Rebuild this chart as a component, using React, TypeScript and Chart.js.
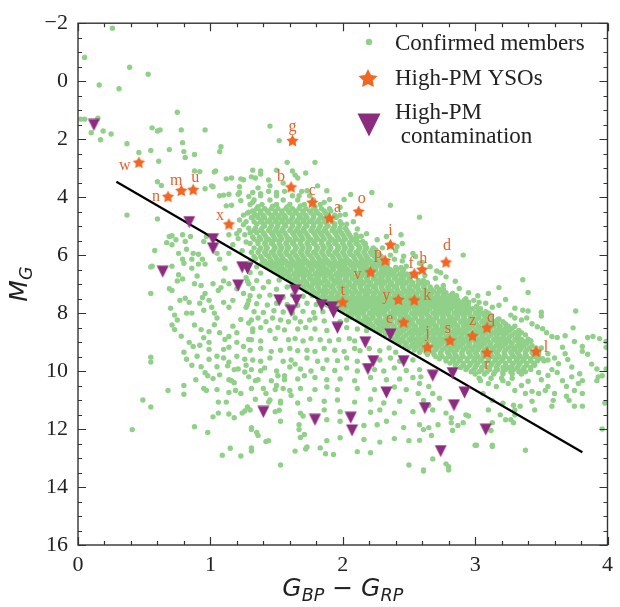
import React, { useEffect, useRef } from "react";
import { Chart, registerables } from "chart.js";

Chart.register(...registerables);

// ---------- axis ticks ----------
const xMajorTicks = [0, 1, 2, 3, 4];
const xMinorTicks = [0.2, 0.4, 0.6, 0.8, 1.2, 1.4, 1.6, 1.8, 2.2, 2.4, 2.6, 2.8, 3.2, 3.4, 3.6, 3.8];
const yMajorTicks = [-2, 0, 2, 4, 6, 8, 10, 12, 14, 16];
const yMinorTicks = [-1.5, -1, -0.5, 0.5, 1, 1.5, 2.5, 3, 3.5, 4.5, 5, 5.5, 6.5, 7, 7.5, 8.5, 9, 9.5, 10.5, 11, 11.5, 12.5, 13, 13.5, 14.5, 15, 15.5];

// ---------- legend ----------
const legendMembers = "Confirmed members";
const legendYSO = "High-PM YSOs";
const legendContam = ["High-PM", " contamination"];

// ---------- fitted boundary line ----------
const fitLineX = [0.29, 3.81];
const fitLineY = [3.47, 12.8];

// ---------- High-PM YSOs ----------
const ysoNames = ["a","b","c","d","e","f","g","h","i","j","k","l","m","n","o","p","q","r","s","t","u","v","w","x","y","z"];
const ysoX = [1.90,1.61,1.77,2.78,2.46,2.54,1.62,2.60,2.36,2.64,2.54,3.46,0.78,0.68,2.12,2.32,3.09,3.09,2.81,2.00,0.87,2.21,0.46,1.14,2.42,2.98];
const ysoY = [4.72,3.65,4.18,6.24,8.31,6.64,2.05,6.49,5.64,9.17,7.55,9.32,3.77,3.98,4.49,6.18,8.50,9.36,8.94,7.62,3.74,6.58,2.80,4.93,7.53,8.78];
// label placement relative to its star (pixels)
const labelOffsets: Record<string, number[]> = {
  a: [8, -10], b: [-10, -10], c: [0, -12], d: [1, -16], e: [-14, -3], f: [-3, -10], g: [0, -14],
  h: [1, -11], i: [0, -14], j: [0, -14], k: [13, -4], l: [10, -4], m: [-5, -10], n: [-12, 0],
  o: [3, -13], p: [-7, -7], q: [4, -10], r: [0, 12], s: [-2, -12], t: [0, -11], u: [2, -12],
  v: [-13, 3], w: [-14, 3], x: [-9, -8], y: [-12, -4], z: [0, -15],
};

// ---------- High-PM contamination ----------
const contamX = [0.12,0.84,1.02,1.02,0.64,1.24,1.28,1.21,1.52,1.64,1.65,1.61,1.84,1.92,1.93,1.96,2.17,2.23,2.19,2.36,2.46,2.33,1.40,1.79,2.06,2.07,2.62,2.68,2.83,2.92,2.84,3.08,2.74];
const contamY = [1.51,4.86,5.45,5.77,6.57,6.42,6.46,7.05,7.56,7.22,7.56,7.92,7.73,7.80,7.97,8.51,9.01,9.66,9.93,8.74,9.66,10.74,11.41,11.68,11.61,12.05,11.28,10.16,10.07,10.74,11.18,12.02,12.76];

// ---------- Confirmed members (x, y pairs) ----------
const membersUpper = [
  0.26,-1.83, 0.05,-0.82, 0.39,-0.48, 0.53,-0.24, 0.16,0.13, 0.31,0.26, 0.75,1.07, 0.02,1.31, 0.05,1.31, 0.15,1.28,
  0.10,1.78, 0.19,1.72, 0.25,1.82, 0.17,2.02, 0.37,2.16, 0.56,1.61, 0.62,1.68, 0.60,1.72, 0.78,1.68, 0.96,1.68,
  1.45,1.55, 1.52,2.05, 0.46,2.46, 0.55,2.39, 0.61,2.76, 0.69,2.36, 0.79,2.12, 0.80,2.43, 0.81,2.63, 0.88,2.53,
  1.08,2.26, 1.07,2.43, 0.88,3.10, 0.92,3.12, 1.03,3.13, 0.60,3.47, 0.63,3.60, 0.96,3.71, 1.02,3.64, 1.12,3.37,
  1.23,3.37, 1.31,3.30, 1.22,3.64, 1.22,3.84, 1.07,3.95, 1.10,3.93, 1.14,3.90, 1.21,3.90, 1.29,3.98, 1.32,4.18,
  1.12,4.30, 1.16,4.28, 1.23,4.12, 1.32,3.07, 1.38,3.20, 1.58,2.80, 1.62,3.10, 1.25,3.40, 1.79,2.80, 1.64,3.24,
  1.16,3.34, 1.04,3.10, 1.01,3.61, 1.45,3.61, 1.36,3.68, 1.32,3.84, 1.38,3.88, 1.50,3.84, 1.55,3.51, 1.73,3.78,
  1.67,3.95, 1.38,3.10, 1.50,3.07, 1.34,3.34, 1.44,3.41, 1.66,3.34, 1.72,3.17, 1.81,3.61, 1.88,3.78, 2.01,4.08,
  2.06,3.91, 2.22,3.84, 2.36,4.28, 2.58,4.69, 1.90,4.08, 1.86,4.18, 1.98,4.35, 2.03,4.93, 2.11,5.10, 2.18,5.26,
  2.26,5.47, 2.33,5.36, 2.17,5.60, 2.41,5.70, 2.46,6.04, 2.39,6.14, 2.53,5.94, 2.58,6.28, 2.48,6.38, 2.44,5.30,
  2.45,5.60, 2.91,6.00, 2.71,6.55, 2.74,6.61, 2.40,5.85, 2.55,6.05, 2.45,6.20, 2.60,6.25, 2.66,6.40, 2.62,6.70,
  2.70,6.80, 2.78,6.75, 2.85,6.90, 2.76,7.05, 2.88,7.15, 2.95,7.30, 3.02,7.40,
  1.36,4.33, 1.47,4.31, 1.58,4.34, 1.68,4.30, 1.79,4.33, 2.02,4.60, 2.08,4.85, 2.30,5.75, 2.36,6.00, 2.62,6.95,
  2.78,7.30, 2.93,7.50, 3.08,7.95, 3.18,8.20, 3.33,8.60, 3.42,8.95, 3.50,9.20, 3.55,9.62, 1.25,4.95, 1.22,5.15,
  1.27,5.55, 1.24,5.85, 1.30,6.25, 1.26,5.30, 1.35,6.40, 1.98,4.62, 2.14,5.35, 2.24,5.95,
];

const membersLeft = [
  0.37,4.62, 0.60,4.75, 0.71,5.33, 0.74,5.47, 0.81,5.53, 0.85,5.36, 0.56,6.38, 0.91,5.97, 0.94,6.14, 0.76,5.94,
  0.79,6.14, 0.69,5.36, 0.79,5.30, 0.67,5.57, 0.71,5.64, 0.58,5.84, 0.82,5.80, 0.87,5.94, 0.95,5.53, 0.97,5.36,
  0.80,6.28, 0.86,6.14, 0.91,6.31, 0.96,6.31, 0.55,6.41, 0.71,6.38, 0.76,6.68, 0.79,6.82, 0.75,6.89, 0.86,6.45,
  0.90,6.72, 0.88,6.99, 0.69,7.16, 0.71,7.22, 0.55,7.32, 1.05,5.94, 1.07,6.14, 1.11,6.45, 1.17,5.64, 1.21,5.43,
  1.20,5.26, 1.22,4.79, 1.25,4.62, 1.29,4.52, 1.32,4.69, 1.14,5.30, 1.14,5.94, 1.02,6.99, 1.06,7.22, 1.10,6.89,
  0.93,7.05, 0.96,7.32, 0.94,7.46, 0.77,7.56, 0.81,7.49, 0.84,7.63, 0.70,7.83, 0.73,8.07, 0.75,8.24, 0.82,8.00,
  0.86,8.00, 0.92,7.66, 0.95,7.90, 0.99,7.56, 1.01,7.80, 1.03,8.00, 1.05,8.17, 1.10,7.63, 1.14,7.80, 1.17,7.56,
  1.08,7.12, 1.14,6.99, 1.20,7.16, 1.27,6.78, 1.29,6.99, 1.25,7.32, 1.29,7.56, 1.27,7.80, 0.71,8.41, 0.73,8.57,
  0.88,8.41, 0.93,8.57, 0.99,8.64, 0.84,9.01, 0.87,9.15, 0.92,9.11, 0.99,9.01, 0.99,9.25, 1.07,8.68, 1.11,8.91,
  1.14,8.81, 1.20,8.68, 1.10,9.25, 1.14,9.18, 1.20,9.01, 1.25,9.15, 1.29,8.91, 0.80,9.35, 0.82,9.59, 0.90,9.49,
  0.55,9.52, 0.55,9.69, 0.99,9.59, 1.05,9.49, 1.10,9.55, 1.14,9.69, 1.20,9.49, 1.26,9.59, 1.29,8.34, 1.32,8.64,
  0.78,8.80, 0.95,8.85, 1.03,8.40, 1.17,8.45, 1.23,8.22, 1.05,9.85, 0.93,9.85, 1.18,9.95, 1.27,9.80, 0.86,9.80,
  0.41,12.02, 0.49,11.00, 0.55,11.24, 0.68,10.67, 0.80,10.50, 0.80,10.80, 0.89,10.30, 0.96,10.06, 0.98,10.16, 1.02,10.26,
  1.07,10.13, 0.95,10.60, 0.97,10.67, 1.05,10.64, 1.14,10.30, 1.16,10.33, 1.18,10.40, 1.14,10.74, 1.19,10.67, 1.23,10.77,
  1.06,11.07, 1.12,11.07, 1.02,11.58, 1.06,11.45, 1.14,11.48, 1.18,11.61, 1.24,11.45, 1.26,11.38, 1.28,11.24, 0.88,11.92,
  0.98,12.12, 1.31,12.02, 1.15,12.66, 1.09,12.90, 1.23,12.93, 1.31,12.76, 1.13,9.82, 1.21,9.93, 1.29,10.20,
];

const membersLower = [
  1.35,12.12, 1.36,12.22, 1.42,12.43, 1.52,11.35, 1.53,11.10, 1.61,10.84, 1.60,10.67, 1.55,10.60, 1.64,12.76, 1.68,12.29,
  1.71,12.19, 1.72,12.69, 1.67,12.02, 1.70,11.55, 1.40,10.60, 1.42,10.77, 1.45,11.00, 1.26,10.03, 1.34,10.33, 1.38,9.99,
  1.46,10.33, 1.50,10.50, 1.51,10.16, 1.56,10.16, 1.60,9.86, 1.64,9.76, 1.68,9.93, 1.71,10.16,
  1.31,8.24, 1.36,8.17, 1.42,8.30, 1.47,8.17, 1.53,8.24, 1.59,8.30, 1.64,8.17, 1.68,8.30, 1.75,8.24, 1.79,8.17,
  1.86,8.27, 1.98,8.30, 2.03,8.24, 1.32,8.55, 1.38,8.50, 1.45,8.60, 1.51,8.50, 1.56,8.58, 1.66,8.55, 1.72,8.50,
  1.79,8.55, 1.88,8.60, 2.03,8.50, 2.11,8.55, 2.18,8.60, 1.31,8.92, 1.38,8.96, 1.49,8.88, 1.59,8.92, 1.64,8.88,
  1.70,8.96, 1.76,8.88, 1.83,8.92, 1.90,8.96, 1.97,8.92, 2.05,8.88, 2.09,8.96, 1.30,9.28, 1.38,9.22, 1.46,9.32,
  1.53,9.28, 1.60,9.22, 1.66,9.30, 1.73,9.28, 1.79,9.32, 1.86,9.22, 1.94,9.28, 2.01,9.32, 2.09,9.22, 2.13,9.30,
  2.20,9.22, 2.28,9.30, 2.35,9.20, 2.40,9.35, 1.32,9.62, 1.38,9.66, 1.45,9.55, 1.55,9.66, 1.61,9.62, 1.73,9.55,
  1.81,9.66, 1.88,9.62, 1.96,9.64, 2.03,9.55, 2.11,9.66, 2.28,9.62, 2.36,9.55, 2.43,9.66, 2.53,9.62, 1.31,9.95,
  1.41,9.89, 1.50,10.00, 1.76,10.00, 1.85,9.91, 1.94,9.98, 2.03,9.89, 2.11,10.00, 2.24,9.95, 2.31,10.00, 2.39,9.89,
  2.48,9.98, 2.58,9.95, 1.36,10.30, 1.56,10.30, 1.66,10.27, 1.79,10.22, 1.88,10.30, 1.98,10.27, 2.09,10.33, 2.21,10.22,
  2.33,10.30, 2.43,10.27, 2.53,10.22, 1.31,10.60, 1.49,10.64, 1.68,10.60, 1.79,10.64, 1.88,10.55, 1.96,10.64, 2.11,10.60,
  2.24,10.64, 2.39,10.55, 2.48,10.64, 1.34,10.97, 1.44,11.07, 1.53,11.04, 1.66,11.10, 1.75,10.97, 1.86,11.04, 1.96,11.00,
  2.09,11.07, 2.21,10.97, 2.31,11.10, 2.43,11.04, 1.30,11.34, 1.49,11.40, 1.68,11.45, 1.86,11.34, 1.98,11.40, 2.21,11.42,
  2.28,11.34, 2.39,11.45, 2.53,11.40, 1.31,11.95, 1.53,11.73, 1.67,11.85, 1.88,11.68, 1.98,11.73, 2.16,11.88, 2.26,11.85,
  2.33,11.73, 2.46,11.95, 2.58,11.85, 1.44,12.40, 1.88,12.40, 1.98,12.30, 2.16,12.36, 2.28,12.45, 2.39,12.33, 2.50,12.40,
  1.31,12.65, 1.73,12.62, 1.83,12.65, 1.87,12.85, 1.93,12.88, 2.11,12.78, 2.21,12.82, 1.53,13.24, 2.50,13.24, 2.61,13.45,
  2.80,13.30, 3.00,12.56, 3.13,12.60, 3.38,12.73,
  1.30,6.60, 1.38,6.62, 1.28,6.90, 1.35,6.88, 1.44,6.92, 1.52,6.86, 1.32,7.15, 1.40,7.12, 1.50,7.18, 1.58,7.10,
  1.30,7.40, 1.37,7.42, 1.45,7.38, 1.55,7.45, 1.62,7.38, 1.70,7.42, 1.77,7.40, 1.28,7.70, 1.35,7.68, 1.43,7.72,
  1.50,7.66, 1.58,7.70, 1.66,7.74, 1.73,7.66, 1.80,7.70, 1.88,7.72, 1.33,7.95, 1.40,7.98, 1.48,7.92, 1.55,7.96,
  1.62,8.00, 1.70,7.94, 1.78,7.98, 1.85,7.95, 1.93,7.92,
];

const membersRight = [
  3.36,6.85, 3.18,7.12, 3.40,7.29, 3.10,7.32, 3.23,7.53, 2.95,7.63, 2.99,7.56, 3.03,7.63, 3.08,7.66, 3.13,7.80,
  3.18,7.73, 3.30,7.83, 3.36,7.90, 3.40,7.93, 3.50,7.97, 3.50,8.10, 3.76,7.93, 3.27,8.07, 3.30,8.17, 3.35,8.24,
  3.39,8.17, 3.43,8.37, 3.47,8.47, 3.51,8.54, 3.54,8.68, 3.58,8.81, 3.62,8.84, 3.74,8.51, 3.68,8.78, 3.75,8.98,
  3.81,9.15, 3.85,8.84, 3.89,8.81, 3.94,8.88, 3.99,8.98, 3.99,9.18, 3.66,9.18, 3.81,9.32, 3.85,9.42, 3.73,9.86,
  3.92,10.33, 3.96,10.16, 3.81,10.77, 3.75,10.67, 3.98,11.10, 3.96,12.00, 3.55,9.40, 3.60,9.55, 3.63,9.75, 3.58,9.95,
  3.55,10.15, 3.50,10.30, 3.62,10.05, 3.68,9.40, 3.70,9.60, 3.48,10.05, 3.40,10.35, 3.35,10.50,
  3.58,11.21, 3.59,11.01, 3.60,10.77, 3.69,10.87, 3.71,11.01, 3.75,11.21, 3.81,11.21, 3.81,10.33, 3.78,10.43, 3.79,10.09,
  3.92,9.93, 3.93,10.20, 3.88,9.76, 3.99,9.93, 3.73,10.20, 3.69,10.53, 3.66,10.33, 3.43,11.04, 3.45,11.34, 3.43,10.70,
  3.48,10.77, 3.53,10.67, 3.55,10.53, 3.30,11.51, 3.29,11.78, 3.23,11.68, 3.38,10.77, 3.34,11.21, 3.13,11.78, 3.12,12.05,
  3.13,12.56, 3.01,12.56, 2.93,11.51, 2.95,11.55, 2.91,11.78, 2.87,11.88, 2.83,12.05, 2.82,11.78, 2.78,11.45, 2.82,11.61,
  2.73,10.94, 2.68,10.77, 2.65,10.53, 2.59,10.20, 2.58,10.43, 2.57,10.77, 2.61,11.01, 2.65,11.18, 2.68,11.34, 2.61,12.02,
  2.65,11.95, 2.58,12.39, 2.67,12.22, 2.72,11.85, 2.68,13.03, 2.78,13.20, 2.80,13.41, 2.61,13.41,
  3.04,10.33, 3.10,10.43, 3.16,10.53, 3.21,10.33, 3.25,10.43, 3.30,10.67, 3.06,10.77, 3.13,11.01, 3.21,11.11, 3.29,11.18,
  3.10,11.34, 3.19,11.51, 3.27,11.68, 3.30,11.34,
];

// dense sequence band: one row of colours per magnitude
const coreRowsY = [3.80,3.95,4.10,4.25,4.40,4.55,4.70,4.85,5.00,5.15,5.30,5.45,5.60,5.75,5.90,6.05,6.20,6.35,6.50,6.65,6.80,6.95,7.10,7.25,7.40,7.55,7.70,7.85,8.00,8.15,8.30,8.45,8.60,8.75,8.90,9.05,9.20,9.35,9.50,9.65,9.80,9.95,10.10,10.25];
const coreRowsX = [
  [1.44,1.56,1.69],
  [1.38,1.50,1.62,1.75],
  [1.33,1.45,1.55,1.66,1.78],
  [1.30,1.39,1.50,1.60,1.71,1.83],
  [1.35,1.41,1.46,1.51,1.57,1.62,1.67,1.72,1.78,1.84,1.90],
  [1.28,1.33,1.38,1.44,1.49,1.54,1.60,1.65,1.70,1.76,1.81,1.87],
  [1.31,1.36,1.41,1.47,1.52,1.57,1.62,1.68,1.73,1.78,1.84,1.89,1.95],
  [1.27,1.33,1.38,1.43,1.49,1.54,1.59,1.65,1.70,1.75,1.81,1.86,1.92,1.98],
  [1.41,1.46,1.51,1.57,1.62,1.67,1.73,1.78,1.83,1.89,1.94],
  [1.33,1.38,1.44,1.49,1.54,1.60,1.65,1.70,1.76,1.81,1.86,1.92,1.97,2.03],
  [1.41,1.47,1.52,1.57,1.63,1.68,1.73,1.79,1.84,1.89,1.95,2.00,2.05,2.10],
  [1.33,1.38,1.44,1.49,1.54,1.60,1.65,1.70,1.76,1.81,1.86,1.92,1.97,2.02,2.08],
  [1.30,1.36,1.41,1.46,1.52,1.57,1.62,1.68,1.73,1.78,1.84,1.89,1.94,2.00,2.05,2.10,2.16],
  [1.33,1.38,1.43,1.49,1.54,1.59,1.65,1.70,1.75,1.81,1.86,1.91,1.97,2.02,2.07,2.13,2.18,2.23],
  [1.31,1.36,1.41,1.46,1.52,1.57,1.62,1.68,1.73,1.78,1.84,1.89,1.94,2.00,2.05,2.10,2.16,2.21],
  [1.33,1.38,1.44,1.49,1.54,1.60,1.65,1.70,1.76,1.81,1.86,1.92,1.97,2.02,2.08,2.13,2.18,2.24,2.29],
  [1.41,1.46,1.52,1.57,1.62,1.68,1.73,1.78,1.84,1.89,1.94,2.00,2.05,2.10,2.16,2.21,2.26,2.31],
  [1.42,1.47,1.52,1.58,1.63,1.68,1.74,1.79,1.84,1.90,1.95,2.00,2.06,2.11,2.16,2.22,2.27,2.32],
  [1.46,1.51,1.56,1.61,1.67,1.72,1.77,1.83,1.88,1.93,1.99,2.04,2.09,2.15,2.20,2.25,2.31,2.36,2.41,2.46],
  [1.52,1.57,1.63,1.68,1.73,1.79,1.84,1.89,1.95,2.00,2.05,2.11,2.16,2.21,2.27,2.32,2.37,2.43,2.48,2.53],
  [1.59,1.64,1.70,1.75,1.80,1.86,1.91,1.96,2.02,2.07,2.12,2.18,2.23,2.28,2.34,2.39,2.44,2.50],
  [1.63,1.68,1.73,1.79,1.84,1.89,1.95,2.00,2.05,2.11,2.16,2.21,2.27,2.32,2.37,2.43,2.48,2.53,2.59,2.64],
  [1.70,1.75,1.81,1.86,1.91,1.97,2.02,2.07,2.13,2.18,2.23,2.29,2.34,2.39,2.45,2.50,2.55,2.61,2.66,2.71],
  [1.73,1.78,1.84,1.89,1.94,2.00,2.05,2.10,2.16,2.21,2.26,2.32,2.37,2.42,2.48,2.53,2.58,2.64,2.69,2.74],
  [1.80,1.85,1.91,1.96,2.01,2.07,2.12,2.17,2.23,2.28,2.33,2.39,2.44,2.49,2.55,2.60,2.65,2.71,2.76,2.81,2.86],
  [1.86,1.91,1.96,2.02,2.07,2.12,2.18,2.23,2.28,2.34,2.39,2.44,2.50,2.55,2.60,2.66,2.71,2.76,2.82,2.87,2.92],
  [1.91,1.97,2.02,2.07,2.13,2.18,2.23,2.29,2.34,2.39,2.45,2.50,2.55,2.61,2.66,2.71,2.77,2.82,2.87,2.93],
  [1.97,2.02,2.08,2.13,2.18,2.24,2.29,2.34,2.40,2.45,2.50,2.56,2.61,2.66,2.72,2.77,2.82,2.88,2.93,2.98,3.04],
  [2.04,2.09,2.14,2.20,2.25,2.30,2.36,2.41,2.46,2.52,2.57,2.62,2.68,2.73,2.78,2.84,2.89,2.94,3.00,3.05,3.10],
  [2.07,2.12,2.18,2.23,2.28,2.34,2.39,2.44,2.50,2.55,2.60,2.66,2.71,2.76,2.82,2.87,2.92,2.98,3.03,3.08],
  [2.14,2.19,2.25,2.30,2.35,2.41,2.46,2.51,2.57,2.62,2.67,2.73,2.78,2.83,2.89,2.94,2.99,3.05,3.10,3.15,3.21],
  [2.18,2.23,2.29,2.34,2.39,2.45,2.50,2.55,2.61,2.66,2.71,2.77,2.82,2.87,2.93,2.98,3.03,3.09,3.14,3.19,3.25,3.30],
  [2.25,2.30,2.36,2.41,2.46,2.52,2.57,2.62,2.68,2.73,2.78,2.84,2.89,2.94,3.00,3.05,3.10,3.16,3.21,3.26],
  [2.32,2.37,2.42,2.48,2.53,2.58,2.64,2.69,2.74,2.80,2.85,2.90,2.96,3.01,3.06,3.12,3.17,3.22,3.28,3.33,3.38],
  [2.39,2.44,2.50,2.55,2.60,2.66,2.71,2.76,2.82,2.87,2.92,2.98,3.03,3.08,3.14,3.19,3.24,3.30,3.35,3.40],
  [2.43,2.48,2.54,2.59,2.64,2.70,2.75,2.80,2.86,2.91,2.96,3.02,3.07,3.12,3.18,3.23,3.28,3.34,3.39],
  [2.50,2.55,2.61,2.66,2.71,2.77,2.82,2.87,2.93,2.98,3.03,3.09,3.14,3.19,3.25,3.30,3.35,3.41,3.46],
  [2.58,2.63,2.68,2.74,2.79,2.84,2.90,2.95,3.00,3.06,3.11,3.16,3.22,3.27,3.32,3.38,3.43,3.48],
  [2.70,2.75,2.81,2.86,2.91,2.97,3.02,3.07,3.13,3.18,3.23,3.29,3.34,3.39,3.45],
  [2.78,2.83,2.88,2.94,2.99,3.04,3.10,3.15,3.20,3.26,3.31,3.36,3.42,3.47,3.52],
  [2.85,2.91,2.96,3.01,3.07,3.12,3.17,3.23,3.28,3.33,3.39,3.45],
  [2.93,2.99,3.05,3.11,3.17,3.23,3.29,3.36,3.42],
  [3.00,3.07,3.14,3.21,3.28,3.35],
  [3.03,3.12,3.20,3.28],
];

// in-between rows of the dense band
const coreMidRowsY = [4.475,4.625,4.775,4.925,5.075,5.225,5.375,5.525,5.675,5.825,5.975,6.125,6.275,6.425,6.575,6.725,6.875,7.025,7.175,7.325,7.475,7.625,7.775,7.925,8.075,8.225,8.375,8.525,8.675,8.825,8.975,9.125,9.275,9.425,9.575,9.725,9.875,10.025];
const coreMidRowsX = [
  [1.32,1.38,1.43,1.49,1.54,1.59,1.64,1.70,1.75,1.80,1.86,1.91],
  [1.35,1.40,1.46,1.51,1.56,1.62,1.67,1.72,1.78,1.83,1.88,1.94],
  [1.39,1.45,1.50,1.55,1.61,1.66,1.71,1.77,1.82,1.87],
  [1.35,1.40,1.46,1.51,1.56,1.62,1.67,1.72,1.78,1.83,1.88,1.94,1.99],
  [1.29,1.34,1.39,1.45,1.50,1.55,1.61,1.66,1.71,1.77,1.82,1.87,1.93,1.98,2.02],
  [1.30,1.35,1.40,1.46,1.51,1.56,1.62,1.67,1.72,1.78,1.83,1.88,1.94,1.99,2.04],
  [1.32,1.37,1.42,1.48,1.53,1.58,1.64,1.69,1.74,1.80,1.85,1.90,1.96,2.01,2.06,2.11],
  [1.36,1.42,1.47,1.52,1.58,1.63,1.68,1.74,1.79,1.84,1.90,1.95,2.00,2.06,2.11,2.15],
  [1.42,1.48,1.53,1.58,1.64,1.69,1.74,1.80,1.85,1.90,1.96,2.01,2.06,2.12,2.17],
  [1.37,1.42,1.48,1.53,1.58,1.64,1.69,1.74,1.80,1.85,1.90,1.96,2.01,2.06,2.12,2.17,2.22,2.25],
  [1.42,1.48,1.53,1.58,1.64,1.69,1.74,1.80,1.85,1.90,1.96,2.01,2.06,2.12,2.17,2.22,2.27],
  [1.34,1.39,1.45,1.50,1.55,1.61,1.66,1.71,1.77,1.82,1.87,1.93,1.98,2.03,2.09,2.14,2.19,2.25],
  [1.39,1.44,1.49,1.55,1.60,1.65,1.71,1.76,1.81,1.87,1.92,1.97,2.03,2.08,2.13,2.19,2.24,2.29,2.34],
  [1.44,1.49,1.54,1.60,1.65,1.70,1.76,1.81,1.86,1.92,1.97,2.02,2.08,2.13,2.18,2.24,2.29,2.34,2.40,2.44],
  [1.49,1.54,1.59,1.65,1.70,1.75,1.81,1.86,1.91,1.97,2.02,2.07,2.13,2.18,2.23,2.29,2.34,2.39,2.45],
  [1.55,1.60,1.66,1.71,1.76,1.82,1.87,1.92,1.98,2.03,2.08,2.14,2.19,2.24,2.30,2.35,2.40,2.46,2.51,2.55],
  [1.61,1.66,1.71,1.77,1.82,1.87,1.93,1.98,2.03,2.09,2.14,2.19,2.25,2.30,2.35,2.41,2.46,2.51,2.57,2.61],
  [1.66,1.72,1.77,1.82,1.88,1.93,1.98,2.04,2.09,2.14,2.20,2.25,2.30,2.36,2.41,2.46,2.52,2.57,2.62],
  [1.71,1.77,1.82,1.87,1.93,1.98,2.03,2.09,2.14,2.19,2.25,2.30,2.35,2.41,2.46,2.51,2.57,2.62,2.67,2.73,2.76],
  [1.76,1.81,1.87,1.92,1.97,2.03,2.08,2.13,2.19,2.24,2.29,2.35,2.40,2.45,2.51,2.56,2.61,2.67,2.72,2.77,2.83],
  [1.83,1.88,1.93,1.99,2.04,2.09,2.15,2.20,2.25,2.31,2.36,2.41,2.47,2.52,2.57,2.63,2.68,2.73,2.79,2.84],
  [1.88,1.94,1.99,2.04,2.10,2.15,2.20,2.26,2.31,2.36,2.42,2.47,2.52,2.58,2.63,2.68,2.74,2.79,2.84,2.90,2.95],
  [1.94,1.99,2.05,2.10,2.15,2.21,2.26,2.31,2.37,2.42,2.47,2.53,2.58,2.63,2.69,2.74,2.79,2.85,2.90,2.95,3.01],
  [2.00,2.06,2.11,2.16,2.22,2.27,2.32,2.38,2.43,2.48,2.54,2.59,2.64,2.70,2.75,2.80,2.86,2.91,2.96,3.02],
  [2.06,2.11,2.16,2.22,2.27,2.32,2.38,2.43,2.48,2.54,2.59,2.64,2.70,2.75,2.80,2.86,2.91,2.96,3.02,3.07,3.12],
  [2.11,2.16,2.21,2.27,2.32,2.37,2.43,2.48,2.53,2.59,2.64,2.69,2.75,2.80,2.85,2.91,2.96,3.01,3.07,3.12,3.17],
  [2.16,2.21,2.27,2.32,2.37,2.43,2.48,2.53,2.59,2.64,2.69,2.75,2.80,2.85,2.91,2.96,3.01,3.07,3.12,3.17,3.23],
  [2.22,2.27,2.32,2.38,2.43,2.48,2.54,2.59,2.64,2.70,2.75,2.80,2.86,2.91,2.96,3.02,3.07,3.12,3.18,3.23,3.28],
  [2.28,2.34,2.39,2.44,2.50,2.55,2.60,2.66,2.71,2.76,2.82,2.87,2.92,2.98,3.03,3.08,3.14,3.19,3.24,3.30,3.35],
  [2.36,2.41,2.46,2.52,2.57,2.62,2.68,2.73,2.78,2.84,2.89,2.94,3.00,3.05,3.10,3.16,3.21,3.26,3.32],
  [2.41,2.46,2.52,2.57,2.62,2.68,2.73,2.78,2.84,2.89,2.94,3.00,3.05,3.10,3.16,3.21,3.26,3.32,3.37,3.42],
  [2.47,2.52,2.57,2.63,2.68,2.73,2.79,2.84,2.89,2.95,3.00,3.05,3.11,3.16,3.21,3.27,3.32,3.37,3.43],
  [2.54,2.59,2.65,2.70,2.75,2.81,2.86,2.91,2.97,3.02,3.07,3.13,3.18,3.23,3.29,3.34,3.39],
  [2.64,2.69,2.74,2.80,2.85,2.90,2.96,3.01,3.06,3.12,3.17,3.22,3.28,3.33,3.38,3.44,3.48],
  [2.73,2.78,2.84,2.89,2.94,3.00,3.05,3.10,3.16,3.21,3.26,3.32,3.37,3.42,3.48,3.51],
  [2.81,2.86,2.91,2.97,3.02,3.07,3.13,3.18,3.23,3.29,3.34,3.39,3.44],
  [2.89,2.94,3.00,3.05,3.10,3.16,3.21,3.26,3.32,3.37,3.42],
  [2.97,3.03,3.09,3.15,3.21,3.27,3.33,3.38],
];

// ---------- styling ----------
const GREEN = "#90d088";
const ORANGE = "#f26522";
const LABEL_ORANGE = "#e8602c";
const PURPLE = "#8b2c7f";
const INK = "#222222";
const SERIF = '"Liberation Serif", "Times New Roman", serif';
const SANS = '"DejaVu Sans", sans-serif';

function pairs(a: number[]) {
  const out: { x: number; y: number }[] = [];
  for (let i = 0; i + 1 < a.length; i += 2) out.push({ x: a[i], y: a[i + 1] });
  return out;
}

function starPath(ctx: CanvasRenderingContext2D, cx: number, cy: number, outer: number) {
  ctx.beginPath();
  for (let i = 0; i < 10; i++) {
    const r = i % 2 === 0 ? outer : outer * 0.5;
    const a = -Math.PI / 2 + (i * Math.PI) / 5;
    const px = cx + r * Math.cos(a);
    const py = cy + r * Math.sin(a);
    if (i === 0) ctx.moveTo(px, py);
    else ctx.lineTo(px, py);
  }
  ctx.closePath();
}

function triPath(ctx: CanvasRenderingContext2D, cx: number, cy: number, half: number) {
  ctx.beginPath();
  ctx.moveTo(cx - half, cy - half);
  ctx.lineTo(cx + half, cy - half);
  ctx.lineTo(cx, cy + half);
  ctx.closePath();
}

function makeStarImage(outer: number) {
  const c = document.createElement("canvas");
  const s = Math.ceil(outer * 2 + 2);
  c.width = s;
  c.height = s;
  const ctx = c.getContext("2d")!;
  ctx.fillStyle = ORANGE;
  starPath(ctx, s / 2, s / 2 + 0.5, outer);
  ctx.fill();
  return c;
}

function makeTriImage(half: number) {
  const c = document.createElement("canvas");
  const s = Math.ceil(half * 2 + 1);
  c.width = s;
  c.height = s;
  const ctx = c.getContext("2d")!;
  ctx.fillStyle = PURPLE;
  triPath(ctx, s / 2, s / 2, half);
  ctx.fill();
  return c;
}

function drawRich(ctx: CanvasRenderingContext2D, parts: { t: string; sub?: boolean; upright?: boolean }[], cx: number, baseY: number) {
  const big = 25;
  const small = 17.5;
  const fontOf = (p: { sub?: boolean; upright?: boolean }) =>
    `${p.upright ? "" : "italic "}${p.sub ? small : big}px ${SANS}`;
  let total = 0;
  const widths = parts.map((p) => {
    ctx.font = fontOf(p);
    const w = ctx.measureText(p.t).width;
    total += w;
    return w;
  });
  let x = cx - total / 2;
  parts.forEach((p, i) => {
    ctx.font = fontOf(p);
    ctx.fillText(p.t, x, baseY + (p.sub ? 5 : 0));
    x += widths[i];
  });
}

const overlayPlugin = {
  id: "overlay",
  afterDatasetsDraw(chart: any) {
    const { ctx, scales } = chart;
    const xs = scales.x;
    const ys = scales.y;
    ctx.save();
    ctx.font = `16px ${SERIF}`;
    ctx.fillStyle = LABEL_ORANGE;
    ctx.textAlign = "center";
    ctx.textBaseline = "middle";
    ysoNames.forEach((n, i) => {
      const off = labelOffsets[n] || [0, -12];
      ctx.fillText(n, xs.getPixelForValue(ysoX[i]) + off[0], ys.getPixelForValue(ysoY[i]) + off[1]);
    });
    ctx.restore();
  },
  afterDraw(chart: any) {
    const { ctx, chartArea: a, scales } = chart;
    const xs = scales.x;
    const ys = scales.y;
    ctx.save();
    // frame
    ctx.strokeStyle = "#333";
    ctx.lineWidth = 1.4;
    ctx.strokeRect(a.left, a.top, a.right - a.left, a.bottom - a.top);
    // inward ticks on all four sides
    ctx.lineWidth = 1.2;
    ctx.beginPath();
    const xt = (v: number, len: number) => {
      const p = Math.round(xs.getPixelForValue(v)) + 0.5;
      ctx.moveTo(p, a.bottom);
      ctx.lineTo(p, a.bottom - len);
      ctx.moveTo(p, a.top);
      ctx.lineTo(p, a.top + len);
    };
    const yt = (v: number, len: number) => {
      const p = Math.round(ys.getPixelForValue(v)) + 0.5;
      ctx.moveTo(a.left, p);
      ctx.lineTo(a.left + len, p);
      ctx.moveTo(a.right, p);
      ctx.lineTo(a.right - len, p);
    };
    xMajorTicks.forEach((v) => xt(v, 8));
    xMinorTicks.forEach((v) => xt(v, 4));
    yMajorTicks.forEach((v) => yt(v, 8));
    yMinorTicks.forEach((v) => yt(v, 4));
    ctx.stroke();

    // legend
    ctx.fillStyle = GREEN;
    ctx.beginPath();
    ctx.arc(369, 42, 3.2, 0, Math.PI * 2);
    ctx.fill();
    ctx.fillStyle = ORANGE;
    starPath(ctx, 368, 79, 10);
    ctx.fill();
    ctx.fillStyle = PURPLE;
    triPath(ctx, 369, 125, 11.5);
    ctx.fill();
    ctx.fillStyle = INK;
    ctx.font = `23px ${SERIF}`;
    ctx.textAlign = "left";
    ctx.textBaseline = "alphabetic";
    ctx.fillText(legendMembers, 395, 50);
    ctx.fillText(legendYSO, 395, 85);
    ctx.fillText(legendContam[0], 395, 119);
    ctx.fillText(legendContam[1], 395, 143);

    // axis titles
    ctx.fillStyle = INK;
    ctx.textAlign = "left";
    drawRich(
      ctx,
      [
        { t: "G" },
        { t: "BP", sub: true },
        { t: " \u2212 ", upright: true },
        { t: "G" },
        { t: "RP", sub: true },
      ],
      (a.left + a.right) / 2,
      596
    );
    ctx.save();
    ctx.translate(0, (a.top + a.bottom) / 2);
    ctx.rotate(-Math.PI / 2);
    drawRich(ctx, [{ t: "M" }, { t: "G", sub: true }], 0, 27);
    ctx.restore();
    ctx.restore();
  },
};

export default function App() {
  const ref = useRef<HTMLCanvasElement | null>(null);
  useEffect(() => {
    document.body.style.margin = "0";
    const canvas = ref.current;
    if (!canvas) return;
    const memberPoints = [
      ...pairs(membersUpper),
      ...pairs(membersLeft),
      ...pairs(membersLower),
      ...pairs(membersRight),
    ];
    coreRowsY.forEach((y, i) => coreRowsX[i].forEach((x) => memberPoints.push({ x, y })));
    coreMidRowsY.forEach((y, i) => coreMidRowsX[i].forEach((x) => memberPoints.push({ x, y })));
    const ysoPoints = ysoX.map((x, i) => ({ x, y: ysoY[i] }));
    const contamPoints = contamX.map((x, i) => ({ x, y: contamY[i] }));
    const linePoints = fitLineX.map((x, i) => ({ x, y: fitLineY[i] }));
    const starImg = makeStarImage(6.5);
    const triImg = makeTriImage(6);

    const chart = new Chart(canvas, {
      type: "scatter",
      data: {
        datasets: [
          {
            label: legendMembers,
            data: memberPoints,
            pointRadius: 2.7,
            pointHoverRadius: 2.7,
            backgroundColor: GREEN,
            borderWidth: 0,
            order: 4,
          } as any,
          {
            label: "boundary",
            type: "line",
            data: linePoints,
            borderColor: "#000",
            borderWidth: 2.2,
            pointRadius: 0,
            showLine: true,
            fill: false,
            order: 3,
          } as any,
          {
            label: legendYSO,
            data: ysoPoints,
            pointStyle: starImg,
            pointRadius: 6,
            order: 2,
          } as any,
          {
            label: legendContam.join(""),
            data: contamPoints,
            pointStyle: triImg,
            pointRadius: 6,
            order: 1,
          } as any,
        ],
      },
      options: {
        animation: false,
        responsive: false,
        events: [],
        layout: { padding: { left: 0, top: 12, right: 7, bottom: 0 } },
        plugins: { legend: { display: false }, tooltip: { enabled: false } },
        scales: {
          x: {
            type: "linear",
            min: 0,
            max: 4,
            ticks: { stepSize: 1, font: { family: SERIF, size: 22 }, color: INK, padding: 7, maxRotation: 0 },
            grid: { display: false, drawTicks: false },
            border: { display: false },
            afterFit: (s: any) => {
              s.height = 62;
            },
          },
          y: {
            type: "linear",
            min: -2,
            max: 16,
            reverse: true,
            ticks: {
              stepSize: 2,
              font: { family: SERIF, size: 22 },
              color: INK,
              padding: 10,
              callback: (v: any) => (Number(v) < 0 ? "\u2212" + Math.abs(Number(v)) : String(v)),
            },
            grid: { display: false, drawTicks: false },
            border: { display: false },
            afterFit: (s: any) => {
              s.width = 78;
            },
          },
        },
      } as any,
      plugins: [overlayPlugin as any],
    });
    return () => chart.destroy();
  }, []);
  return (
    <div style={{ width: 620, height: 607, background: "#fff" }}>
      <canvas ref={ref} width={620} height={607} style={{ display: "block" }} />
    </div>
  );
}
